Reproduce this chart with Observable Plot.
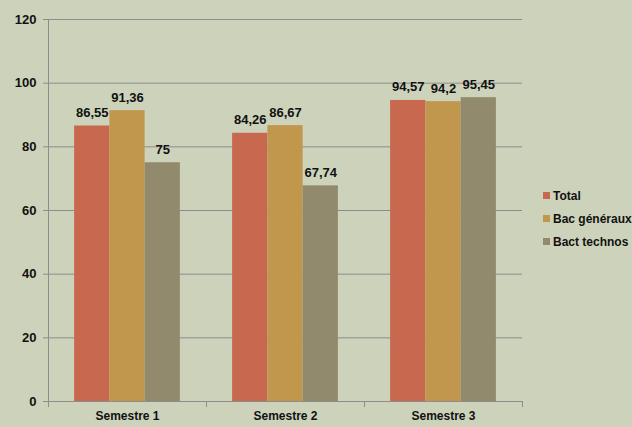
<!DOCTYPE html>
<html><head><meta charset="utf-8">
<script src="https://cdn.jsdelivr.net/npm/d3@7"></script>
<script src="https://cdn.jsdelivr.net/npm/@observablehq/plot@0.6"></script>
<style>
body{margin:0;background:#cdd3bb;}
#wrap{position:relative;width:632px;height:427px;background:#cdd3bb;font-family:"Liberation Sans",Arial,sans-serif;}
#legend{position:absolute;left:543px;top:184px;font-weight:bold;font-size:12px;color:#111;}
#legend div{height:23px;display:flex;align-items:center;}
#legend span.sw{display:inline-block;width:7px;height:7px;margin-right:3px;}
</style></head>
<body><div id="wrap"><div id="legend"></div></div>
<script>
const semestres = ["Semestre 1", "Semestre 2", "Semestre 3"];
const series = ["Total", "Bac généraux", "Bact technos"];
const total = [86.55, 84.26, 94.57];
const bacGeneraux = [91.36, 86.67, 94.2];
const bactTechnos = [75, 67.74, 95.45];
const yTicks = [0, 20, 40, 60, 80, 100, 120];
const colors = ["#c8694f", "#c0974d", "#928a6d"];

const valuesBySeries = [total, bacGeneraux, bactTechnos];
const data = [];
semestres.forEach((s, i) => series.forEach((k, j) => data.push({sem: s, serie: k, value: valuesBySeries[j][i]})));
const fmt = v => String(v).replace(".", ",");

const chart = Plot.plot({
  width: 632, height: 427,
  marginLeft: 47, marginRight: 110, marginTop: 19, marginBottom: 26,
  style: {background: "transparent", fontFamily: "'Liberation Sans', Arial, sans-serif", color: "#111"},
  fx: {domain: semestres, padding: 0, label: null, axis: null},
  x: {domain: series, paddingInner: 0, paddingOuter: 0.74, round: false, axis: null},
  y: {domain: [0, 120], axis: null, label: null},
  color: {domain: series, range: colors},
  marks: [
    Plot.gridY(yTicks, {stroke: "#8c8c8c", strokeOpacity: 1}),
    Plot.barY(data, {fx: "sem", x: "serie", y: "value", fill: "serie"}),
    Plot.text(data, {fx: "sem", x: "serie", y: "value", text: d => fmt(d.value), lineAnchor: "bottom", dy: -9, fontSize: 13, fontWeight: "bold", fill: "#111"}),
    Plot.ruleY([0], {stroke: "#8c8c8c"}),
    Plot.frame({anchor: "left", stroke: "#8c8c8c", insetTop: 382, insetBottom: -5}),
    Plot.frame({anchor: "right", stroke: "#8c8c8c", insetTop: 382, insetBottom: -5}),
    Plot.frame({anchor: "left", stroke: "#8c8c8c", facet: "super"}),
    Plot.axisY(yTicks, {anchor: "left", label: null, tickSize: 5, tickPadding: 7, stroke: "#8c8c8c", fontSize: 13, fontWeight: "bold", fill: "#111", tickFormat: d => d}),
    Plot.axisFx({anchor: "bottom", tickSize: 0, tickPadding: 10, fontSize: 12, fontWeight: "bold", fill: "#111", label: null})
  ]
});
chart.style.display = "block";
document.getElementById("wrap").prepend(chart);

const legend = document.getElementById("legend");
series.forEach((s, i) => {
  const row = document.createElement("div");
  row.innerHTML = `<span class="sw" style="background:${colors[i]}"></span>${s}`;
  legend.appendChild(row);
});
</script>
</body></html>
